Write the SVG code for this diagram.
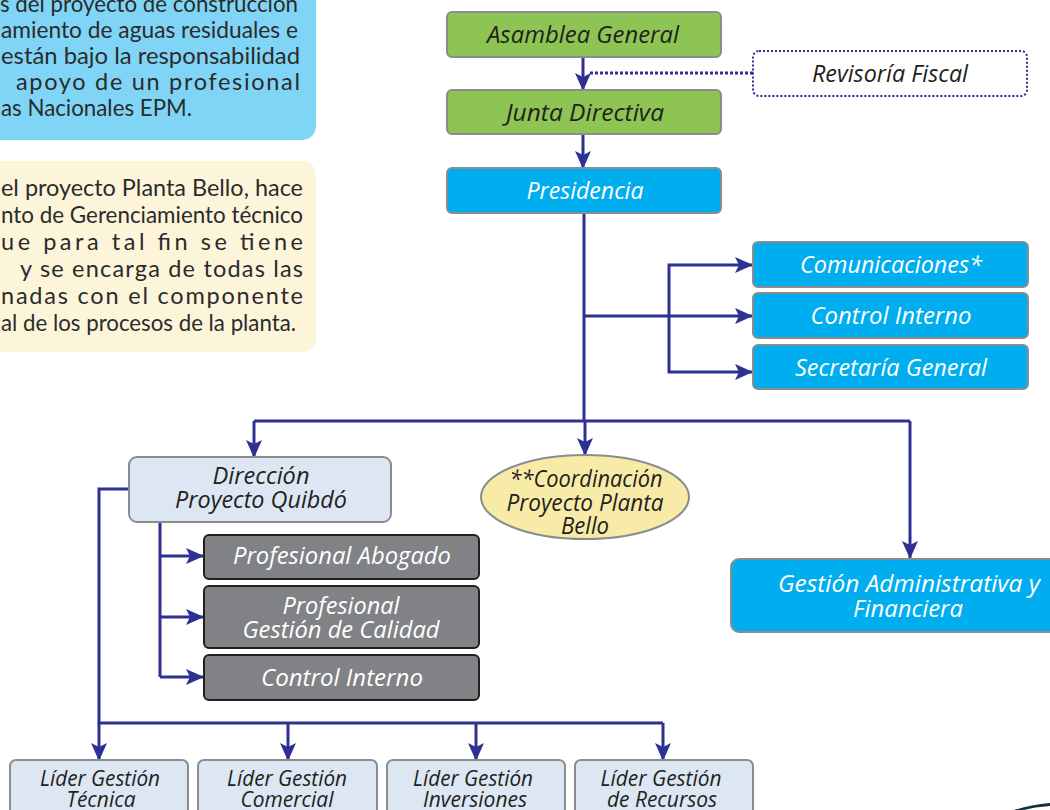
<svg xmlns="http://www.w3.org/2000/svg" width="1050" height="810" viewBox="0 0 1050 810">
<defs>
<marker id="ah" viewBox="0 0 18 16" refX="17" refY="8" markerWidth="18" markerHeight="16" markerUnits="userSpaceOnUse" orient="auto">
<path d="M0,0 L18,8 L0,16 L4,8 Z" fill="#2e3192"/>
</marker>
<style>
.para{font-family:Lato,"Open Sans",sans-serif;font-size:23.5px;fill:#2b2b2b}
.lbl{font-family:"Open Sans","Noto Sans",sans-serif;font-style:italic;font-size:23px;text-anchor:middle}
.dk{fill:#231f20}
.wh{fill:#ffffff}
.cyan{fill:#00aeef;stroke:#8a8c8e;stroke-width:2}
.green{fill:#8dc453;stroke:#8a8c8e;stroke-width:2}
.pale{fill:#dce7f3;stroke:#8a8c8e;stroke-width:2}
.gray{fill:#808285;stroke:#231f20;stroke-width:2}
.cn{fill:none;stroke:#2e3192;stroke-width:3}
.ar{marker-end:url(#ah)}
</style>
</defs>

<g id="note-blue">
<rect x="-20" y="-20" width="336" height="160" rx="14" fill="#80d5f7"/>
<text class="para" x="0" y="12" textLength="298" lengthAdjust="spacingAndGlyphs">s del proyecto de construcción</text>
<text class="para" x="1" y="38" textLength="297" lengthAdjust="spacingAndGlyphs">amiento de aguas residuales e</text>
<text class="para" x="1" y="64" textLength="299" lengthAdjust="spacingAndGlyphs">están bajo la responsabilidad</text>
<text class="para" x="16" y="90" textLength="284" lengthAdjust="spacing">apoyo de un profesional</text>
<text class="para" x="1" y="116" textLength="191" lengthAdjust="spacingAndGlyphs">as Nacionales EPM.</text>
</g>

<g id="note-yellow">
<rect x="-20" y="161" width="336" height="191" rx="14" fill="#fcf5da"/>
<text class="para" x="1" y="196" textLength="302" lengthAdjust="spacingAndGlyphs">el proyecto Planta Bello, hace</text>
<text class="para" x="1" y="223" textLength="302" lengthAdjust="spacingAndGlyphs">nto de Gerenciamiento técnico</text>
<text class="para" x="1" y="250" textLength="302" lengthAdjust="spacing">ue para tal fin se tiene</text>
<text class="para" x="20" y="277" textLength="283" lengthAdjust="spacing">y se encarga de todas las</text>
<text class="para" x="1" y="304" textLength="302" lengthAdjust="spacing">nadas con el componente</text>
<text class="para" x="1" y="331" textLength="295" lengthAdjust="spacingAndGlyphs">al de los procesos de la planta.</text>
</g>

<g id="connectors">
<line class="cn ar" x1="583" y1="57" x2="583" y2="90"/>
<line x1="753" y1="73" x2="590" y2="73" stroke="#2e3192" stroke-width="3" stroke-dasharray="3,2"/>
<line class="cn ar" x1="583" y1="134" x2="583" y2="168"/>
<line class="cn" x1="584" y1="213" x2="584" y2="421"/>
<line class="cn ar" x1="584" y1="316" x2="752" y2="316"/>
<polyline class="cn ar" points="669,316 669,265 752,265"/>
<polyline class="cn ar" points="669,316 669,372 752,372"/>
<polyline class="cn" points="254,421 910,421"/>
<line class="cn ar" x1="254" y1="421" x2="254" y2="457"/>
<line class="cn ar" x1="585" y1="421" x2="585" y2="455"/>
<line class="cn ar" x1="910" y1="421" x2="910" y2="558"/>
<polyline class="cn" points="160,522 160,677"/>
<line class="cn ar" x1="160" y1="556" x2="203" y2="556"/>
<line class="cn ar" x1="160" y1="617" x2="203" y2="617"/>
<line class="cn ar" x1="160" y1="677" x2="203" y2="677"/>
<polyline class="cn" points="129,489 99,489 99,723 663,723"/>
<line class="cn ar" x1="99" y1="723" x2="99" y2="760"/>
<line class="cn ar" x1="288" y1="723" x2="288" y2="760"/>
<line class="cn ar" x1="476" y1="723" x2="476" y2="760"/>
<line class="cn ar" x1="663" y1="723" x2="663" y2="760"/>
</g>

<g id="asamblea">
<rect class="green" x="447" y="12" width="274" height="45" rx="5"/>
<text class="lbl dk" x="583" y="43" textLength="192" lengthAdjust="spacingAndGlyphs">Asamblea General</text>
</g>
<g id="revisoria">
<rect x="753" y="51" width="274" height="45" rx="6" fill="#ffffff" stroke="#2e3192" stroke-width="2" stroke-dasharray="2,2"/>
<text class="lbl dk" x="890" y="82" textLength="156" lengthAdjust="spacingAndGlyphs">Revisoría Fiscal</text>
</g>
<g id="junta">
<rect class="green" x="447" y="90" width="274" height="44" rx="5"/>
<text class="lbl dk" x="585" y="121" textLength="158" lengthAdjust="spacingAndGlyphs">Junta Directiva</text>
</g>
<g id="presidencia">
<rect class="cyan" x="447" y="168" width="274" height="45" rx="5"/>
<text class="lbl wh" x="585" y="199" textLength="117" lengthAdjust="spacingAndGlyphs">Presidencia</text>
</g>
<g id="comunicaciones">
<rect class="cyan" x="753" y="242" width="275" height="45" rx="5"/>
<text class="lbl wh" x="891" y="273" textLength="182" lengthAdjust="spacingAndGlyphs">Comunicaciones*</text>
</g>
<g id="control-interno-1">
<rect class="cyan" x="753" y="293" width="275" height="45" rx="5"/>
<text class="lbl wh" x="891" y="324" textLength="161" lengthAdjust="spacingAndGlyphs">Control Interno</text>
</g>
<g id="secretaria">
<rect class="cyan" x="753" y="345" width="275" height="44" rx="5"/>
<text class="lbl wh" x="891" y="376" textLength="192" lengthAdjust="spacingAndGlyphs">Secretaría General</text>
</g>
<g id="direccion">
<rect class="pale" x="129" y="457" width="262" height="65" rx="8"/>
<text class="lbl dk" x="261" y="484" textLength="97" lengthAdjust="spacingAndGlyphs">Dirección</text>
<text class="lbl dk" x="261" y="508" textLength="172" lengthAdjust="spacingAndGlyphs">Proyecto Quibdó</text>
</g>
<g id="coordinacion">
<ellipse cx="585" cy="497" rx="104" ry="42" fill="#f8eba8" stroke="#8a8c8e" stroke-width="2"/>
<text class="lbl dk" x="586" y="487" textLength="153" lengthAdjust="spacingAndGlyphs">**Coordinación</text>
<text class="lbl dk" x="585" y="511" textLength="157" lengthAdjust="spacingAndGlyphs">Proyecto Planta</text>
<text class="lbl dk" x="585" y="534" textLength="48" lengthAdjust="spacingAndGlyphs">Bello</text>
</g>
<g id="gestion-admin">
<rect class="cyan" x="731" y="559" width="340" height="73" rx="8"/>
<text class="lbl wh" x="909" y="592" textLength="262" lengthAdjust="spacingAndGlyphs">Gestión Administrativa y</text>
<text class="lbl wh" x="908" y="617" textLength="110" lengthAdjust="spacingAndGlyphs">Financiera</text>
</g>
<g id="abogado">
<rect class="gray" x="204" y="535" width="275" height="44" rx="5"/>
<text class="lbl wh" x="342" y="564" textLength="218" lengthAdjust="spacingAndGlyphs">Profesional Abogado</text>
</g>
<g id="calidad">
<rect class="gray" x="204" y="586" width="275" height="62" rx="5"/>
<text class="lbl wh" x="341" y="614" textLength="117" lengthAdjust="spacingAndGlyphs">Profesional</text>
<text class="lbl wh" x="341" y="638" textLength="197" lengthAdjust="spacingAndGlyphs">Gestión de Calidad</text>
</g>
<g id="control-interno-2">
<rect class="gray" x="204" y="655" width="275" height="45" rx="5"/>
<text class="lbl wh" x="342" y="686" textLength="162" lengthAdjust="spacingAndGlyphs">Control Interno</text>
</g>
<g id="lider-tecnica">
<rect class="pale" x="10" y="760" width="178" height="70" rx="6"/>
<text class="lbl dk" x="100" y="786" style="font-size:21px" textLength="120" lengthAdjust="spacingAndGlyphs">Líder Gestión</text>
<text class="lbl dk" x="101" y="807" style="font-size:21px" textLength="69" lengthAdjust="spacingAndGlyphs">Técnica</text>
</g>
<g id="lider-comercial">
<rect class="pale" x="198" y="760" width="179" height="70" rx="6"/>
<text class="lbl dk" x="287" y="786" style="font-size:21px" textLength="120" lengthAdjust="spacingAndGlyphs">Líder Gestión</text>
<text class="lbl dk" x="287" y="807" style="font-size:21px" textLength="93" lengthAdjust="spacingAndGlyphs">Comercial</text>
</g>
<g id="lider-inversiones">
<rect class="pale" x="387" y="760" width="178" height="70" rx="6"/>
<text class="lbl dk" x="473" y="786" style="font-size:21px" textLength="120" lengthAdjust="spacingAndGlyphs">Líder Gestión</text>
<text class="lbl dk" x="475" y="807" style="font-size:21px" textLength="104" lengthAdjust="spacingAndGlyphs">Inversiones</text>
</g>
<g id="lider-recursos">
<rect class="pale" x="575" y="760" width="178" height="70" rx="6"/>
<text class="lbl dk" x="661" y="786" style="font-size:21px" textLength="121" lengthAdjust="spacingAndGlyphs">Líder Gestión</text>
<text class="lbl dk" x="662" y="807" style="font-size:21px" textLength="110" lengthAdjust="spacingAndGlyphs">de Recursos</text>
</g>
<path d="M1014,810 Q1030,805 1050,803 L1050,806 Q1034,807 1024,810 Z" fill="#13303f"/>
</svg>
